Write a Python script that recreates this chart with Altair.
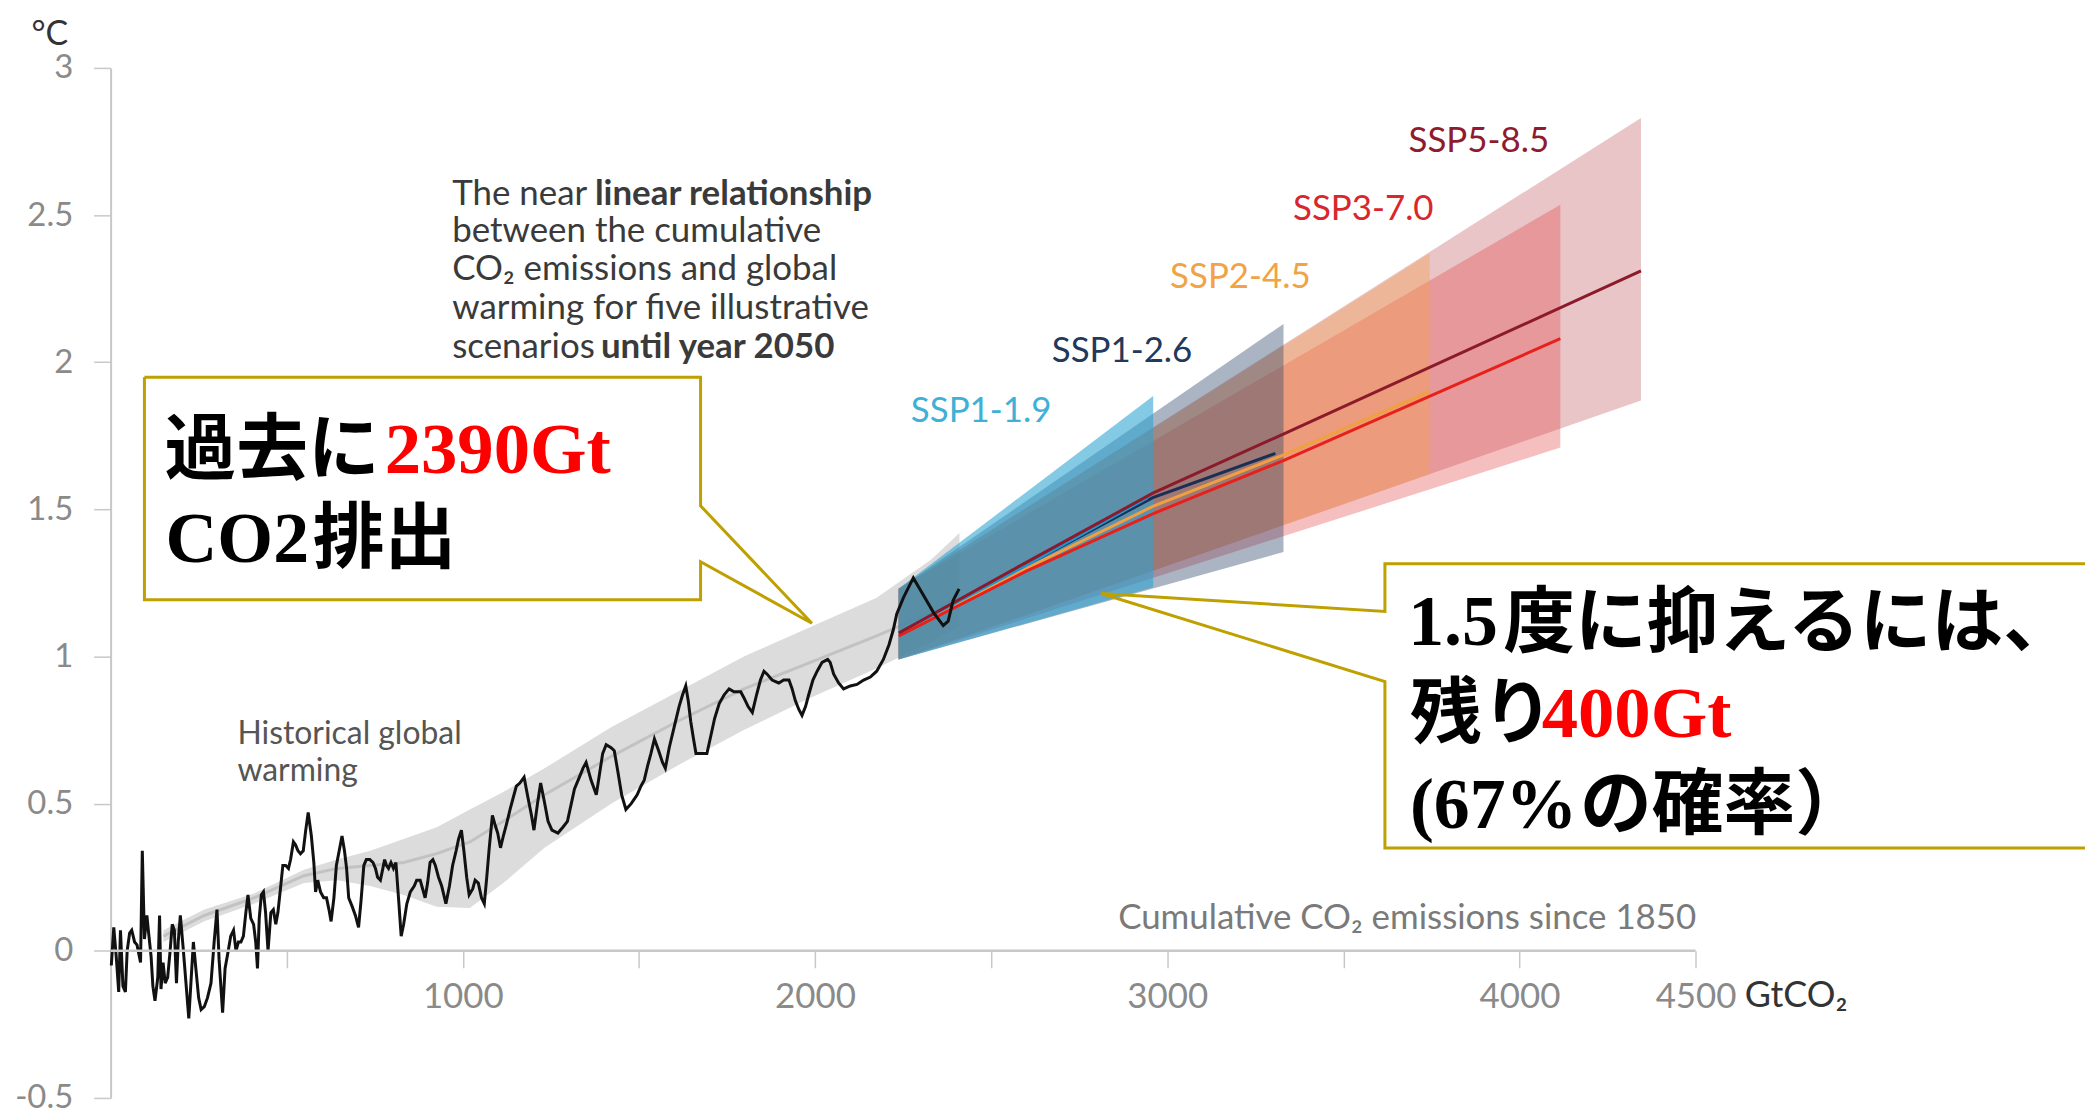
import altair as alt
import pandas as pd

# ---------------- data (x: cumulative CO2 GtCO2, y: warming degC) ----------------
hist_x = [2, 9, 16, 23, 28, 35, 42, 47, 54, 60, 68, 75, 80, 85, 90, 96, 103, 108, 115, 120,
          126, 134, 139, 143, 149, 155, 162, 169, 175, 181, 187, 192, 198, 206, 214, 222, 228,
          235, 242, 250, 257, 266, 275, 285, 294, 302, 308, 318, 325, 334, 341, 349, 356, 363,
          370, 377, 384, 390, 398, 406, 412, 417, 422, 428, 434, 440, 447, 455, 462, 469, 475,
          483, 489, 497, 505, 511, 519, 525, 532, 539, 547, 554, 561, 570, 577, 582, 588, 596,
          605, 613, 620, 626, 634, 641, 649, 657, 664, 670, 676, 686, 695, 704, 711, 719, 726,
          736, 745, 752, 758, 766, 773, 778, 783, 789, 796, 803, 810, 818, 825, 832, 841, 851,
          862, 869, 879, 886, 893, 900, 907, 915, 922, 931, 940, 952, 962, 971, 981, 988, 996,
          1003, 1011, 1018, 1028, 1035, 1044, 1053, 1061, 1068, 1075, 1084, 1091, 1099, 1107,
          1115, 1124, 1134, 1143, 1152, 1162, 1174, 1185, 1195, 1202, 1212, 1221, 1231, 1242,
          1253, 1270, 1284, 1297, 1308, 1317, 1331, 1341, 1350, 1364, 1379, 1388, 1397, 1407,
          1421, 1430, 1440, 1451, 1463, 1478, 1495, 1506, 1515, 1525, 1534, 1544, 1556, 1567,
          1575, 1586, 1600, 1614, 1624, 1633, 1640, 1647, 1655, 1662, 1676, 1693, 1704, 1715,
          1728, 1742, 1756, 1770, 1789, 1798, 1810, 1822, 1834, 1845, 1855, 1864, 1878, 1897,
          1911, 1926, 1935, 1944, 1954, 1963, 1973, 1982, 1994, 2006, 2020, 2036, 2043, 2053,
          2067, 2081, 2100, 2119, 2138, 2157, 2175, 2194, 2210, 2222, 2232, 2251, 2279, 2307,
          2336, 2364, 2378, 2392, 2409]
hist_y = [-0.05, 0.08, -0.02, -0.14, 0.07, -0.12, -0.14, 0.00, 0.06, 0.07, 0.03, 0.02, -0.01,
          -0.04, 0.34, 0.04, 0.12, 0.06, -0.02, -0.12, -0.17, -0.09, 0.12, -0.13, -0.04, -0.11,
          -0.09, 0.00, 0.09, 0.07, -0.11, 0.03, 0.12, 0.01, -0.11, -0.23, -0.11, 0.03, -0.06,
          -0.16, -0.20, -0.19, -0.16, -0.11, 0.03, 0.14, -0.03, -0.21, -0.06, 0.00, 0.05, 0.07,
          0.00, 0.03, 0.03, 0.05, 0.13, 0.19, 0.11, 0.09, 0.03, -0.06, 0.11, 0.19, 0.20, 0.13,
          0.00, 0.13, 0.14, 0.09, 0.13, 0.22, 0.29, 0.29, 0.28, 0.31, 0.37, 0.36, 0.34, 0.33,
          0.34, 0.41, 0.47, 0.39, 0.30, 0.20, 0.24, 0.20, 0.18, 0.18, 0.14, 0.10, 0.18, 0.29,
          0.34, 0.39, 0.34, 0.28, 0.18, 0.15, 0.12, 0.08, 0.17, 0.29, 0.31, 0.31, 0.30, 0.28,
          0.25, 0.24, 0.28, 0.31, 0.29, 0.28, 0.30, 0.28, 0.30, 0.17, 0.05, 0.09, 0.16, 0.20,
          0.22, 0.24, 0.24, 0.21, 0.18, 0.23, 0.30, 0.31, 0.29, 0.25, 0.22, 0.16, 0.22, 0.29,
          0.34, 0.38, 0.41, 0.34, 0.25, 0.19, 0.21, 0.24, 0.23, 0.18, 0.16, 0.25, 0.35, 0.46,
          0.43, 0.40, 0.35, 0.39, 0.43, 0.48, 0.52, 0.56, 0.57, 0.59, 0.52, 0.46, 0.41, 0.50,
          0.57, 0.51, 0.44, 0.41, 0.40, 0.42, 0.44, 0.50, 0.55, 0.59, 0.62, 0.64, 0.58, 0.53,
          0.60, 0.67, 0.70, 0.69, 0.68, 0.61, 0.53, 0.48, 0.50, 0.53, 0.56, 0.58, 0.63, 0.67,
          0.72, 0.68, 0.64, 0.62, 0.69, 0.76, 0.83, 0.87, 0.90, 0.85, 0.78, 0.72, 0.67, 0.67,
          0.67, 0.73, 0.79, 0.84, 0.87, 0.89, 0.88, 0.88, 0.86, 0.83, 0.81, 0.87, 0.92, 0.95,
          0.94, 0.92, 0.91, 0.92, 0.92, 0.89, 0.85, 0.82, 0.80, 0.83, 0.87, 0.92, 0.95, 0.98,
          0.99, 0.98, 0.94, 0.91, 0.89, 0.90, 0.905, 0.92, 0.93, 0.95, 0.99, 1.04, 1.09, 1.145,
          1.20, 1.267, 1.21, 1.15, 1.105, 1.12, 1.19, 1.23]

band_x = [150, 266, 407, 549, 643, 737, 832, 926, 1020, 1115, 1232, 1421, 1610, 1798, 1987,
          2175, 2330, 2410]
band_lo = [0.03, 0.10, 0.16, 0.23, 0.24, 0.22, 0.19, 0.15, 0.145, 0.23, 0.35, 0.50, 0.63, 0.75,
           0.86, 0.96, 1.05, 1.10]
band_mid = [0.05, 0.12, 0.18, 0.255, 0.28, 0.29, 0.30, 0.33, 0.37, 0.44, 0.53, 0.66, 0.78, 0.89,
            0.98, 1.07, 1.15, 1.19]
band_hi = [0.07, 0.14, 0.195, 0.275, 0.31, 0.34, 0.38, 0.42, 0.48, 0.54, 0.62, 0.76, 0.88, 1.00,
           1.10, 1.20, 1.33, 1.42]

fan_names = ["SSP1-1.9", "SSP1-2.6", "SSP2-4.5", "SSP3-7.0", "SSP5-8.5"]
fan_x0 = [2237, 2237, 2237, 2237, 2237]
fan_lo0 = [0.99, 0.99, 0.99, 0.99, 0.99]
fan_hi0 = [1.23, 1.23, 1.23, 1.23, 1.23]
fan_x1 = [2960, 3330, 3745, 4116, 4345]
fan_lo1 = [1.235, 1.355, 1.62, 1.71, 1.87]
fan_hi1 = [1.885, 2.13, 2.37, 2.535, 2.83]
fan_fill = ["#2ba3d3", "#2a4368", "#f5a050", "#e03c3c", "#b0303a"]
fan_opacity = [0.58, 0.4, 0.4, 0.33, 0.28]

med_x = [[2238, 2600, 2944],
         [2238, 2600, 2959, 3307],
         [2238, 2600, 2959, 3330, 3745],
         [2238, 2600, 2959, 3328, 4116],
         [2238, 2600, 2959, 3328, 4345]]
med_y = [[1.08, 1.31, 1.54],
         [1.08, 1.31, 1.54, 1.69],
         [1.075, 1.30, 1.51, 1.685, 1.90],
         [1.07, 1.29, 1.485, 1.665, 2.08],
         [1.08, 1.32, 1.555, 1.755, 2.31]]
med_color = ["#1e96d2", "#1b2f55", "#f0a040", "#e8201c", "#8b1a2b"]

label_x = [2272, 2672, 3008, 3357, 3685]
label_y = [1.834, 2.037, 2.288, 2.519, 2.753]
label_color = ["#3fb0d6", "#23395b", "#f0a347", "#d9262c", "#8e1b2e"]

x_ticks = [500, 1000, 1500, 2000, 2500, 3000, 3500, 4000, 4500]
y_ticks = [-0.5, 0, 0.5, 1, 1.5, 2, 2.5, 3]

# annotation texts (positions in data units)
block_reg = ["The near ", "between the cumulative", "CO₂ emissions and global",
             "warming for five illustrative", "scenarios "]
block_reg_x = [970, 970, 970, 970, 970]
block_reg_y = [2.573, 2.444, 2.315, 2.183, 2.051]
block_bold = ["linear relationship", "until year 2050"]
block_bold_x = [1375, 1392]
block_bold_y = [2.573, 2.051]

hist_label = ["Historical global\nwarming"]
hist_label_x = [360]
hist_label_y = [0.737]

cum_label = ["Cumulative CO₂ emissions since 1850"]
cum_label_x = [4502]
cum_label_y = [0.075]

cjk_text = ["過去に", "排出", "度に抑えるには、", "残り", "の確率）"]
cjk_x = [153, 574, 3954, 3689, 4172]
cjk_y = [1.624, 1.322, 1.037, 0.728, 0.418]
serif_text = ["CO2", "1.5", "(67%"]
serif_x = [156, 3684, 3689]
serif_y = [1.322, 1.040, 0.418]
red_text = ["2390Gt", "400Gt"]
red_x = [778, 4063]
red_y = [1.624, 0.728]

callout1_x = [96, 1675, 1675, 1991, 1675, 1675, 96, 96]
callout1_y = [1.949, 1.949, 1.512, 1.113, 1.322, 1.193, 1.193, 1.949]
callout2_x = [5700, 3618, 3618, 2812, 3618, 3618, 5700]
callout2_y = [1.315, 1.315, 1.153, 1.214, 0.915, 0.349, 0.349]

axis_line_x = [0]
axis_line_x2 = [4500]
axis_line_y = [0]

# ---------------- scales / axes ----------------
W, H = 1980, 1034
xscale = alt.Scale(domain=[0, 5600], nice=False, zero=False)
yscale = alt.Scale(domain=[-0.5, 3], nice=False, zero=False)
AXC = "#c8c8c8"
xaxis = alt.Axis(values=x_ticks, format="d",
                 labelExpr="(datum.value % 1000 == 0 || datum.value == 4500) ? datum.label : ''",
                 domain=False, ticks=True, tickSize=17, tickColor=AXC, tickWidth=1.5,
                 labelFont="Lato", labelFontSize=35, labelColor="#8a8a8a", labelPadding=12,
                 labelOverlap=False, labelFlush=False, grid=False,
                 offset=-(H * 0.5 / 3.5),
                 title="GtCO₂", titleX=1640, titleY=56, titleAlign="left",
                 titleBaseline="alphabetic", titleFont="Lato", titleFontSize=36,
                 titleFontWeight="normal", titleColor="#333333")
yaxis = alt.Axis(values=y_ticks, labelExpr="toString(datum.value)",
                 domain=True, domainColor=AXC, domainWidth=2, ticks=True, tickSize=17,
                 tickColor=AXC, tickWidth=1.5, labelFont="Lato", labelFontSize=33,
                 labelColor="#8a8a8a", labelPadding=21, grid=False,
                 title="°C", titleAngle=0, titleX=-80, titleY=-24, titleAlign="left",
                 titleBaseline="alphabetic", titleFont="Lato", titleFontSize=34,
                 titleFontWeight="normal", titleColor="#333333")


def X(f="x"):
    return alt.X(f"{f}:Q", scale=xscale, axis=xaxis)


def Y(f="y"):
    return alt.Y(f"{f}:Q", scale=yscale, axis=yaxis)


layers = []

band_df = pd.DataFrame({"x": band_x, "lo": band_lo, "mid": band_mid, "hi": band_hi})
layers.append(alt.Chart(band_df).mark_area(color="#dcdcdc", opacity=1).encode(
    x=X(), y=Y("lo"), y2="hi:Q"))
layers.append(alt.Chart(band_df).mark_line(color="#c2c2c2", strokeWidth=3).encode(
    x=X(), y=Y("mid")))

# fans drawn from widest-range scenario to lowest
for i in [4, 3, 2, 1, 0]:
    df = pd.DataFrame({"x": [fan_x0[i], fan_x1[i]], "lo": [fan_lo0[i], fan_lo1[i]],
                       "hi": [fan_hi0[i], fan_hi1[i]]})
    layers.append(alt.Chart(df).mark_area(color=fan_fill[i], opacity=fan_opacity[i]).encode(
        x=X(), y=Y("lo"), y2="hi:Q"))

for i in [1, 2, 0, 3, 4]:
    df = pd.DataFrame({"x": med_x[i], "y": med_y[i]})
    layers.append(alt.Chart(df).mark_line(color=med_color[i], strokeWidth=3).encode(
        x=X(), y=Y()))

hist_df = pd.DataFrame({"x": hist_x, "y": hist_y})
layers.append(alt.Chart(hist_df).mark_line(color="#111111", strokeWidth=3,
                                           strokeJoin="miter").encode(x=X(), y=Y()))

axis_df = pd.DataFrame({"x": axis_line_x, "x2": axis_line_x2, "y": axis_line_y})
layers.append(alt.Chart(axis_df).mark_rule(color=AXC, strokeWidth=2.5).encode(
    x=X(), x2="x2:Q", y=Y()))

# scenario labels
lab_df = pd.DataFrame({"x": label_x, "y": label_y, "t": fan_names, "c": label_color})
layers.append(alt.Chart(lab_df).mark_text(font="Lato", fontSize=35, align="left",
                                          baseline="middle").encode(
    x=X(), y=Y(), text="t:N", color=alt.Color("c:N", scale=None)))

# description block
df = pd.DataFrame({"x": block_reg_x, "y": block_reg_y, "t": block_reg})
layers.append(alt.Chart(df).mark_text(font="Lato", fontSize=35, align="left", baseline="middle",
                                      color="#3a3a3a").encode(x=X(), y=Y(), text="t:N"))
df = pd.DataFrame({"x": block_bold_x, "y": block_bold_y, "t": block_bold})
layers.append(alt.Chart(df).mark_text(font="Lato", fontSize=35, fontWeight="bold", align="left",
                                      baseline="middle", color="#3a3a3a").encode(
    x=X(), y=Y(), text="t:N"))
df = pd.DataFrame({"x": hist_label_x, "y": hist_label_y, "t": hist_label})
layers.append(alt.Chart(df).mark_text(font="Lato", fontSize=32, align="left", baseline="middle",
                                      lineBreak="\n", lineHeight=37,
                                      color="#555555").encode(x=X(), y=Y(), text="t:N"))
df = pd.DataFrame({"x": cum_label_x, "y": cum_label_y, "t": cum_label})
layers.append(alt.Chart(df).mark_text(font="Lato", fontSize=35, align="right",
                                      baseline="alphabetic", color="#7a7a7a").encode(
    x=X(), y=Y(), text="t:N"))

# callout outlines
for cx, cy in [(callout1_x, callout1_y), (callout2_x, callout2_y)]:
    df = pd.DataFrame({"x": cx, "y": cy, "o": list(range(len(cx)))})
    layers.append(alt.Chart(df).mark_line(color="#bea000", strokeWidth=3,
                                          strokeJoin="miter").encode(
        x=X(), y=Y(), order="o:Q"))

# callout texts
df = pd.DataFrame({"x": cjk_x, "y": cjk_y, "t": cjk_text})
layers.append(alt.Chart(df).mark_text(font="Noto Sans CJK JP", fontSize=72, fontWeight="bold",
                                      align="left", baseline="alphabetic",
                                      color="#000000").encode(x=X(), y=Y(), text="t:N"))
df = pd.DataFrame({"x": serif_x, "y": serif_y, "t": serif_text})
layers.append(alt.Chart(df).mark_text(font="Liberation Serif", fontSize=72, fontWeight="bold",
                                      align="left", baseline="alphabetic",
                                      color="#000000").encode(x=X(), y=Y(), text="t:N"))
df = pd.DataFrame({"x": red_x, "y": red_y, "t": red_text})
layers.append(alt.Chart(df).mark_text(font="Liberation Serif", fontSize=73, fontWeight="bold",
                                      align="left", baseline="alphabetic",
                                      color="#ff0000").encode(x=X(), y=Y(), text="t:N"))

chart = alt.layer(*layers).properties(
    width=W, height=H,
    autosize=alt.AutoSizeParams(type="none"),
    padding={"left": 103, "top": 58, "right": 2, "bottom": 20},
    background="white",
).configure_view(stroke=None)

chart.save("out.html", embed_options={"renderer": "svg", "actions": False})
